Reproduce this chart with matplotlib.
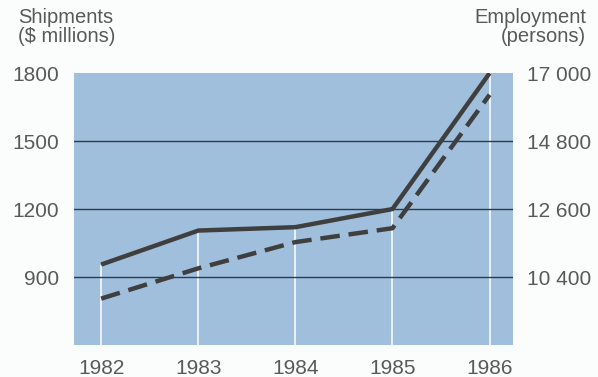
import matplotlib.pyplot as plt

years = [1982, 1983, 1984, 1985, 1986]
shipments = [955, 1105, 1120, 1200, 1800]          # $ millions, left axis
employment = [9700, 10680, 11530, 11980, 16300]    # persons, right axis

left_ticks = [900, 1200, 1500, 1800]
right_ticks = [10400, 12600, 14800, 17000]
right_labels = ['10 400', '12 600', '14 800', '17 000']

text_col = '#595959'
line_col = '#3f3f3f'
plt.rcParams['font.family'] = ['Liberation Sans', 'DejaVu Sans']

fig = plt.figure(figsize=(5.98, 3.77), dpi=100)
fig.patch.set_facecolor('#fbfcfc')
ax = fig.add_axes([0.1237, 0.085, 0.734, 0.721])
ax.set_facecolor('#a0bfdc')
ax.set_xlim(1981.72, 1986.24)
ax.set_ylim(600, 1800)

# white drop lines from the shipments line down to the base
ax.vlines(years, 600, shipments, color='white', lw=1.1, zorder=1)
for y in left_ticks[:-1]:
    ax.axhline(y, color='#2e3a44', lw=1.0, zorder=2)

ax.plot(years, shipments, color=line_col, lw=3.2, solid_capstyle='butt', zorder=4)

ax2 = ax.twinx()
ax2.set_ylim(8200, 17000)
ax2.plot(years, employment, color=line_col, lw=3.2, dashes=(4.4, 2.0),
         dash_capstyle='butt', zorder=4)

for a in (ax, ax2):
    for s in a.spines.values():
        s.set_visible(False)

ax.set_xticks(years)
ax.set_xticklabels([str(y) for y in years])
ax.set_yticks(left_ticks)
ax.set_yticklabels([str(v) for v in left_ticks])
ax.tick_params(axis='both', length=0, labelsize=15, colors=text_col)
ax.tick_params(axis='x', pad=10)
ax.tick_params(axis='y', pad=11)
ax2.set_yticks(right_ticks)
ax2.set_yticklabels(right_labels)
ax2.tick_params(axis='y', length=0, labelsize=15, colors=text_col, pad=10)

fig.text(0.030, 0.978, 'Shipments\n($ millions)', ha='left', va='top',
         fontsize=14.5, color=text_col, linespacing=1.0)
fig.text(0.980, 0.978, 'Employment\n(persons)', ha='right', va='top',
         fontsize=14.5, color=text_col, linespacing=1.0, multialignment='right')

fig.savefig('out.png', dpi=100, facecolor=fig.get_facecolor())
